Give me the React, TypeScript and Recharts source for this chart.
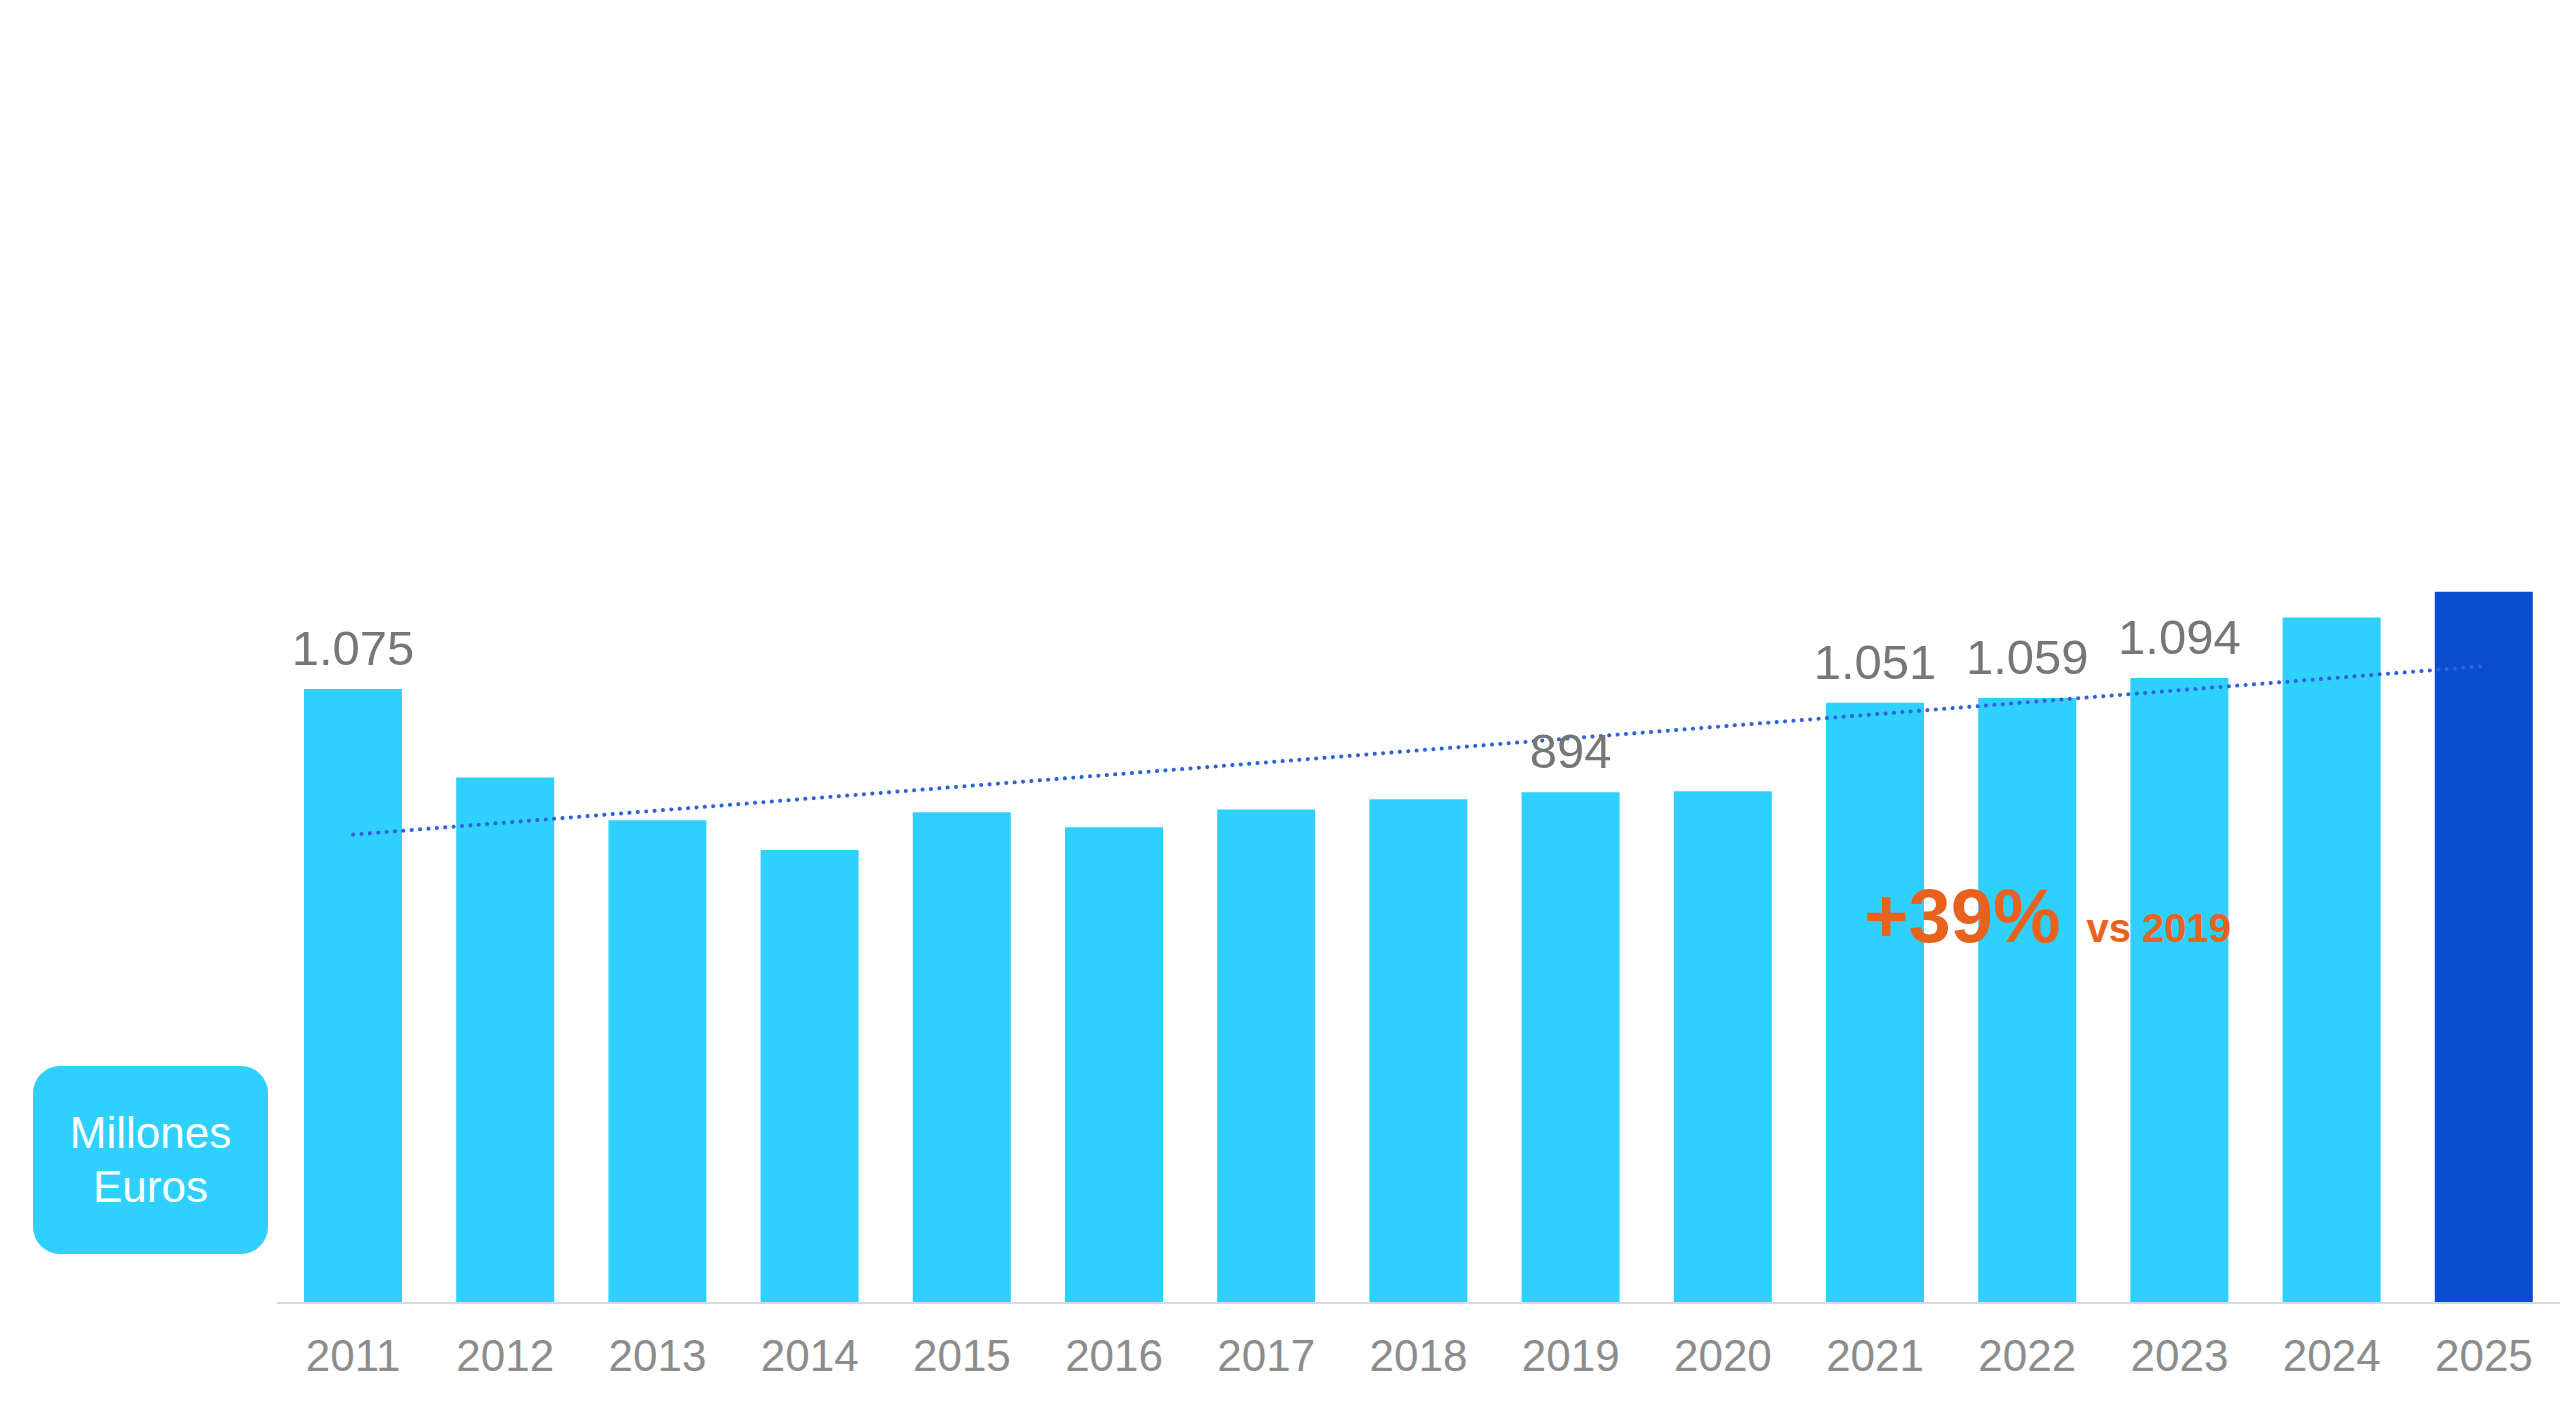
import React from 'react';
import { ComposedChart, Bar, Line, XAxis, YAxis, Cell, LabelList } from 'recharts';

const years = ['2011', '2012', '2013', '2014', '2015', '2016', '2017', '2018', '2019', '2020', '2021', '2022', '2023', '2024', '2025'];
const values = [1075, 920, 845, 793, 859, 833, 864, 882, 894, 896, 1051, 1059, 1094, 1200, 1245];
// only these bars carry a label in the original
const labels = ['1.075', '', '', '', '', '', '', '', '894', '', '1.051', '1.059', '1.094', '', ''];
// linear trend: start and end points only
const trend = [820, null, null, null, null, null, null, null, null, null, null, null, null, null, 1115];

const BAR_COLOR = '#30d0fe';
const LAST_COLOR = '#0a4bcf';

const chartData = years.map((y, i) => ({
  year: y,
  value: values[i],
  label: labels[i],
  trend: trend[i],
}));

const ValueLabel = (props: any) => {
  const { x, y, width, value } = props;
  if (!value) return null;
  return (
    <text
      x={x + width / 2}
      y={y - 24}
      textAnchor="middle"
      fill="#767676"
      fontSize={49}
      fontFamily="Liberation Sans, Arial, sans-serif"
    >
      {value}
    </text>
  );
};

export default function App() {
  return (
    <div style={{ position: 'absolute', left: 0, top: 0, width: 2560, height: 1401, background: '#fff', fontFamily: 'Liberation Sans, Arial, sans-serif' }}>
      <ComposedChart
        width={2560}
        height={1401}
        data={chartData}
        margin={{ top: 160.6, right: 0, left: 277, bottom: 0 }}
      >
        <XAxis
          dataKey="year"
          height={98}
          axisLine={{ stroke: '#d9d9d9', strokeWidth: 2 }}
          tickLine={false}
          tick={{ fill: '#8c8c8c', fontSize: 44, fontFamily: 'Liberation Sans, Arial, sans-serif' }}
          dy={29}
          interval={0}
        />
        <YAxis hide domain={[0, 2000]} />
        <Bar dataKey="value" barSize={98} isAnimationActive={false}>
          {chartData.map((d, i) => (
            <Cell key={d.year} fill={i === chartData.length - 1 ? LAST_COLOR : BAR_COLOR} />
          ))}
          <LabelList dataKey="label" content={ValueLabel} />
        </Bar>
        <Line
          dataKey="trend"
          connectNulls
          stroke="#2f62d8"
          strokeWidth={4}
          strokeDasharray="0.1 8.3"
          strokeLinecap="round"
          dot={false}
          activeDot={false}
          isAnimationActive={false}
        />
      </ComposedChart>

      <div
        style={{
          position: 'absolute',
          left: 33,
          top: 1066,
          width: 235,
          height: 188,
          borderRadius: 27,
          background: BAR_COLOR,
          color: '#fff',
          fontSize: 44,
          lineHeight: '54px',
          textAlign: 'center',
          display: 'flex',
          flexDirection: 'column',
          justifyContent: 'center',
        }}
      >
        <div>Millones</div>
        <div>Euros</div>
      </div>

      <div
        style={{
          position: 'absolute',
          left: 1864,
          top: 873,
          color: '#e8621e',
          fontWeight: 'bold',
          whiteSpace: 'nowrap',
          lineHeight: '86px',
        }}
      >
        <span style={{ fontSize: 76 }}>+39%</span>
        <span style={{ fontSize: 40, marginLeft: 26 }}>vs 2019</span>
      </div>
    </div>
  );
}
